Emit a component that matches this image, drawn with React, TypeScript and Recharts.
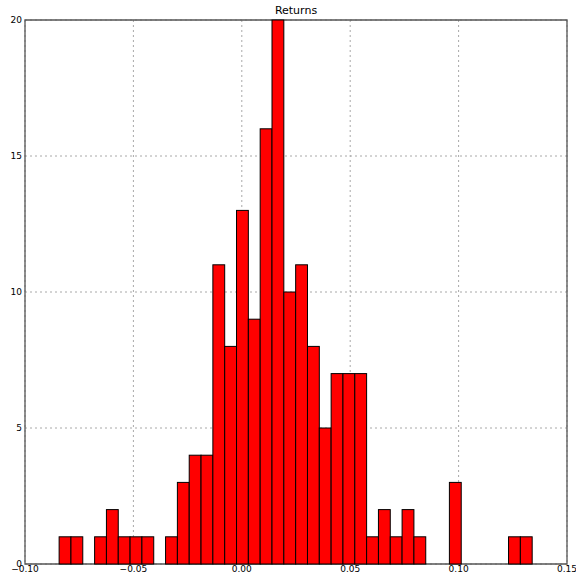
import React from "react";
import { BarChart, Bar, XAxis, YAxis, CartesianGrid, ReferenceArea } from "recharts";

// Histogram of returns: 40 equal-width bins
const binStart = -0.0843;
const binEnd = 0.1339;
const binCounts = [
  1, 1, 0, 1, 2, 1, 1, 1, 0, 1,
  3, 4, 4, 11, 8, 13, 9, 16, 20, 10,
  11, 8, 5, 7, 7, 7, 1, 2, 1, 2,
  1, 0, 0, 3, 0, 0, 0, 0, 1, 1,
];
const xTicks = [-0.1, -0.05, 0, 0.05, 0.1, 0.15];
const yTicks = [0, 5, 10, 15, 20];
const title = "Returns";

const W = 576;
const H = 579;
const margin = { top: 20, right: 9, bottom: 0, left: 0 };
const yAxisWidth = 25;
const xAxisHeight = 15;
const xDomain: [number, number] = [-0.1, 0.15];
const yDomain: [number, number] = [0, 20];

const binWidth = (binEnd - binStart) / binCounts.length;
const data = binCounts.map((c, i) => ({
  x: binStart + binWidth * (i + 0.5),
  count: c,
}));
const plotWidth = W - margin.left - margin.right - yAxisWidth;
const barPx = (plotWidth * binWidth) / (xDomain[1] - xDomain[0]);

const fmtX = (v: number) => {
  const s = Math.abs(v).toFixed(2);
  return v < -1e-9 ? "\u2212" + s : s;
};

const font = "'DejaVu Sans', sans-serif";

const HistBar = (props: any) => {
  const { x, y, width, height } = props;
  if (!height || height <= 0) return null;
  const cx = x + width / 2;
  return (
    <rect
      x={cx - barPx / 2}
      y={y}
      width={barPx}
      height={height}
      fill="#ff0000"
      stroke="#000"
      strokeWidth={1}
    />
  );
};

export default function App() {
  return (
    <div style={{ position: "absolute", left: 0, top: 0, width: W, height: H, background: "#fff" }}>
      <div
        style={{
          position: "absolute",
          left: margin.left + yAxisWidth,
          width: plotWidth,
          top: 4,
          textAlign: "center",
          fontFamily: font,
          fontSize: 11,
          lineHeight: "14px",
          color: "#000",
        }}
      >
        {title}
      </div>
      <BarChart width={W} height={H} data={data} margin={margin} barGap={0} barCategoryGap={0}>
        <CartesianGrid
          stroke="#a8a8a8"
          strokeDasharray="2 3"
          strokeWidth={1}
          verticalValues={xTicks}
          horizontalValues={yTicks}
        />
        <XAxis
          dataKey="x"
          type="number"
          domain={xDomain}
          ticks={xTicks}
          allowDataOverflow
          tickFormatter={fmtX}
          height={xAxisHeight}
          tickLine={false}
          tickSize={0}
          tickMargin={2}
          axisLine={false}
          tick={{ fill: "#000", fontSize: 9, fontFamily: font }}
          interval={0}
        />
        <YAxis
          domain={yDomain}
          ticks={yTicks}
          width={yAxisWidth}
          tickLine={false}
          tickSize={0}
          tickMargin={3}
          axisLine={false}
          tick={{ fill: "#000", fontSize: 9, fontFamily: font }}
          interval={0}
        />
        <Bar
          dataKey="count"
          fill="#ff0000"
          stroke="#000"
          isAnimationActive={false}
          shape={HistBar}
        />
        <ReferenceArea
          x1={xDomain[0]}
          x2={xDomain[1]}
          y1={yDomain[0]}
          y2={yDomain[1]}
          fill="none"
          fillOpacity={0}
          stroke="#555"
          strokeWidth={1.3}
          ifOverflow="visible"
        />
      </BarChart>
    </div>
  );
}
